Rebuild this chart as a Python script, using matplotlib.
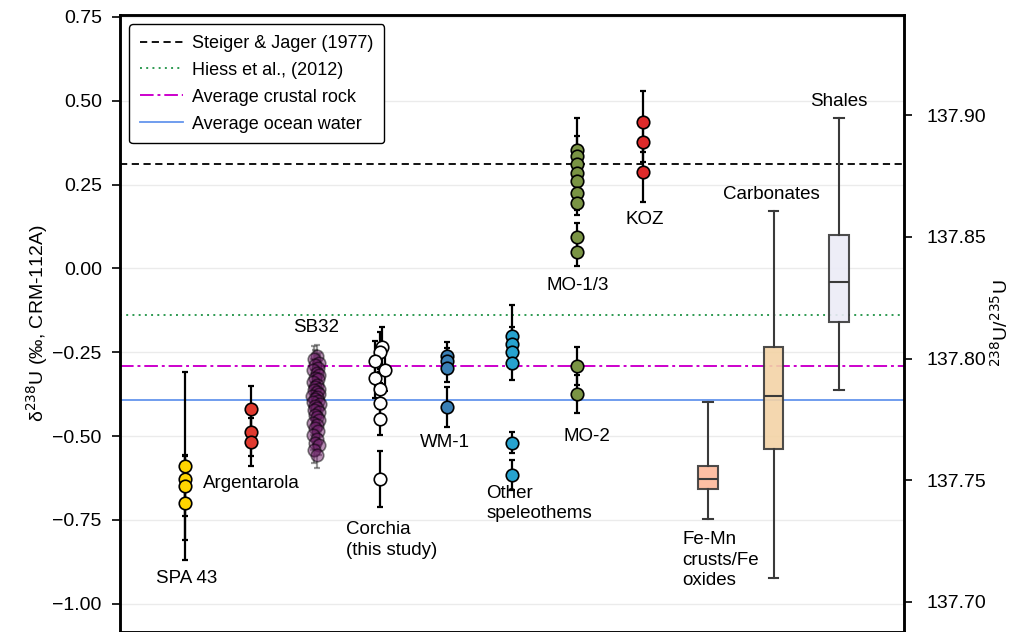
import matplotlib
matplotlib.use("Agg")
import matplotlib.pyplot as plt

plt.rcParams['font.family'] = ['Liberation Sans', 'DejaVu Sans']

R0 = 137.837  # CRM-112A

# reference lines (delta 238U, permil)
ref_names = ["Steiger & Jager (1977)", "Hiess et al., (2012)", "Average crustal rock", "Average ocean water"]
ref_values = [0.312, -0.138, -0.29, -0.392]

# point groups: values, errors, x-offsets
spa43_pos = 1
spa43_val = [-0.589, -0.627, -0.648, -0.699]
spa43_err = [0.28, 0.07, 0.09, 0.11]

arg_pos = 2
arg_val = [-0.419, -0.488, -0.518]
arg_err = [0.07, 0.07, 0.072]

sb32_pos = 3
sb32_val = [-0.262, -0.271, -0.283, -0.288, -0.297, -0.304, -0.312, -0.318, -0.327, -0.331,
            -0.339, -0.347, -0.352, -0.358, -0.362, -0.369, -0.374, -0.381, -0.383, -0.389,
            -0.394, -0.398, -0.404, -0.409, -0.417, -0.423, -0.428, -0.436, -0.443, -0.452,
            -0.461, -0.468, -0.477, -0.486, -0.497, -0.508, -0.519, -0.527, -0.541, -0.556]
sb32_err = [0.035, 0.04, 0.03, 0.045, 0.04, 0.035, 0.04, 0.03, 0.045, 0.04,
            0.035, 0.04, 0.03, 0.04, 0.045, 0.035, 0.04, 0.03, 0.04, 0.045,
            0.035, 0.04, 0.03, 0.04, 0.045, 0.035, 0.04, 0.03, 0.04, 0.045,
            0.035, 0.04, 0.03, 0.04, 0.045, 0.035, 0.04, 0.03, 0.04, 0.04]
sb32_dx = [0.02, -0.03, 0.04, -0.01, 0.03, -0.04, 0.01, 0.05, -0.02, 0.03,
           -0.05, 0.02, -0.01, 0.04, -0.03, 0.01, 0.05, -0.06, 0.02, -0.02,
           0.03, -0.04, 0.06, -0.01, 0.02, -0.03, 0.04, -0.02, 0.01, 0.05,
           -0.04, 0.02, -0.01, 0.03, -0.05, 0.01, -0.02, 0.04, -0.03, 0.02]

cor_pos = 4
cor_val = [-0.233, -0.248, -0.276, -0.304, -0.327, -0.359, -0.402, -0.448, -0.628]
cor_err = [0.06, 0.06, 0.06, 0.06, 0.06, 0.06, 0.06, 0.05, 0.083]
cor_dx = [0.015, -0.02, -0.1, 0.05, -0.1, -0.02, -0.02, -0.02, -0.02]

wm_pos = 5
wm_val = [-0.261, -0.276, -0.297, -0.412]
wm_err = [0.043, 0.04, 0.04, 0.06]

oth_pos = 6
oth_val = [-0.200, -0.225, -0.250, -0.282, -0.519, -0.615]
oth_err = [0.09, 0.05, 0.05, 0.05, 0.03, 0.045]

mo13_pos = 7
mo13_val = [0.354, 0.334, 0.312, 0.284, 0.262, 0.224, 0.195, 0.095, 0.050]
mo13_err = [0.094, 0.06, 0.05, 0.05, 0.05, 0.05, 0.035, 0.042, 0.042]

mo2_pos = 7
mo2_val = [-0.290, -0.375]
mo2_err = [0.057, 0.057]

koz_pos = 8
koz_val = [0.438, 0.378, 0.289]
koz_err = [0.09, 0.06, 0.09]

# box plots: whislo, q1, med, q3, whishi
box_labels = ["Fe-Mn", "Carbonates", "Shales"]
box_pos = [9, 10, 11]
box_whislo = [-0.747, -0.923, -0.362]
box_q1 = [-0.658, -0.538, -0.160]
box_med = [-0.627, -0.379, -0.040]
box_q3 = [-0.588, -0.233, 0.099]
box_whishi = [-0.399, 0.172, 0.448]
box_colors = ["#fdb89a", "#f3d3a6", "#ebebf7"]

yticks = [0.75, 0.5, 0.25, 0.0, -0.25, -0.5, -0.75, -1.0]
rticks = [137.70, 137.75, 137.80, 137.85, 137.90]

fig = plt.figure(figsize=(10.16, 6.32), dpi=100)
ax = fig.add_axes([0.118, 0.0, 0.772, 0.9763])
ax.set_xlim(0, 12)
ax.set_ylim(-1.084, 0.756)

for y in yticks:
    ax.axhline(y, color="#ebebeb", lw=1.0, zorder=0)

ref_styles = [dict(color="black", ls=(0, (4, 2.5)), lw=1.3),
              dict(color="#2e9a52", ls=(0, (1, 2.2)), lw=1.4),
              dict(color="#cc00cc", ls=(0, (7, 2, 1.5, 2)), lw=1.4),
              dict(color="#6495ed", ls="-", lw=1.3)]
for name, v, st in zip(ref_names, ref_values, ref_styles):
    ax.axhline(v, label=name, zorder=1, **st)


def group(pos, vals, errs, color, dx=None, ecolor="black", alpha=1.0, ealpha=1.0, mec="black"):
    if dx is None:
        dx = [0.0] * len(vals)
    xs = [pos + d for d in dx]
    ax.errorbar(xs, vals, yerr=errs, fmt="none", ecolor=ecolor, elinewidth=1.6,
                capsize=2.3, capthick=1.6, alpha=ealpha, zorder=3)
    ax.plot(xs, vals, "o", ms=9, mfc=color, mec=mec, mew=1.2, alpha=alpha,
            ls="none", zorder=4)


group(spa43_pos, spa43_val, spa43_err, "#ffd500")
group(arg_pos, arg_val, arg_err, "#e03a2f")
group(sb32_pos, sb32_val, sb32_err, "#74236f", dx=sb32_dx, ecolor="#444444",
      alpha=0.5, ealpha=0.55)
group(cor_pos, cor_val, cor_err, "white", dx=cor_dx)
group(wm_pos, wm_val, wm_err, "#3a80b6")
group(oth_pos, oth_val, oth_err, "#27a3cf")
group(mo13_pos, mo13_val, mo13_err, "#7a9444")
group(mo2_pos, mo2_val, mo2_err, "#7a9444")
group(koz_pos, koz_val, koz_err, "#dd2a2a")

stats = []
for lab, lo, q1, md, q3, hi in zip(box_labels, box_whislo, box_q1, box_med, box_q3, box_whishi):
    stats.append(dict(label=lab, whislo=lo, q1=q1, med=md, q3=q3, whishi=hi, fliers=[]))
bp = ax.bxp(stats, positions=box_pos, widths=0.3, patch_artist=True, showfliers=False,
            manage_ticks=False,
            boxprops=dict(edgecolor="#3a3a3a", linewidth=1.5),
            whiskerprops=dict(color="#3a3a3a", linewidth=1.5),
            capprops=dict(color="#3a3a3a", linewidth=1.5),
            medianprops=dict(color="#3a3a3a", linewidth=1.5))
for patch, c in zip(bp["boxes"], box_colors):
    patch.set_facecolor(c)
    patch.set_alpha(0.9)
    patch.set_zorder(2)

fs = 13.5
ax.text(1.02, -0.925, "SPA 43", ha="center", va="center", fontsize=fs)
ax.text(1.27, -0.64, "Argentarola", ha="left", va="center", fontsize=fs)
ax.text(3.0, -0.175, "SB32", ha="center", va="center", fontsize=fs)
ax.text(3.46, -0.81, "Corchia\n(this study)", ha="left", va="center", fontsize=fs, linespacing=1.25)
ax.text(4.98, -0.52, "WM-1", ha="center", va="center", fontsize=fs)
ax.text(5.61, -0.70, "Other\nspeleothems", ha="left", va="center", fontsize=fs, linespacing=1.25)
ax.text(7.14, -0.50, "MO-2", ha="center", va="center", fontsize=fs)
ax.text(7.0, -0.05, "MO-1/3", ha="center", va="center", fontsize=fs)
ax.text(8.03, 0.145, "KOZ", ha="center", va="center", fontsize=fs)
ax.text(8.6, -0.87, "Fe-Mn\ncrusts/Fe\noxides", ha="left", va="center", fontsize=fs, linespacing=1.25)
ax.text(9.97, 0.22, "Carbonates", ha="center", va="center", fontsize=fs)
ax.text(11.0, 0.497, "Shales", ha="center", va="center", fontsize=fs)

ax.set_yticks(yticks)
ax.set_yticklabels(["%.2f" % t if t >= 0 else "\u2212%.2f" % abs(t) for t in yticks])
ax.set_xticks([])
ax.tick_params(axis="y", labelsize=14, length=6, width=1.2, direction="out", pad=7)
ax.set_ylabel("δ$^{238}$U (‰, CRM-112A)", fontsize=14, labelpad=2)
for s in ["left", "right", "top", "bottom"]:
    ax.spines[s].set_linewidth(1.8)
    ax.spines[s].set_color("black")

ax2 = ax.twinx()
lo, hi = ax.get_ylim()
ax2.set_ylim(R0 * (1 + lo / 1000), R0 * (1 + hi / 1000))
ax2.set_yticks(rticks)
ax2.set_yticklabels(["%.2f" % t for t in rticks])
ax2.tick_params(axis="y", labelsize=14, length=6, width=1.2, direction="out", pad=10)
ax2.set_ylabel("$^{238}$U/$^{235}$U", fontsize=14, labelpad=3)
for s in ["left", "right", "top", "bottom"]:
    ax2.spines[s].set_linewidth(1.8)

leg = ax.legend(loc="upper left", fontsize=13, frameon=True, fancybox=True,
                edgecolor="black", framealpha=1.0, borderpad=0.6, handlelength=2.4,
                handletextpad=0.5, labelspacing=0.55, bbox_to_anchor=(0.0, 1.0))
leg.get_frame().set_linewidth(1.0)

fig.savefig("out.png", dpi=100)
